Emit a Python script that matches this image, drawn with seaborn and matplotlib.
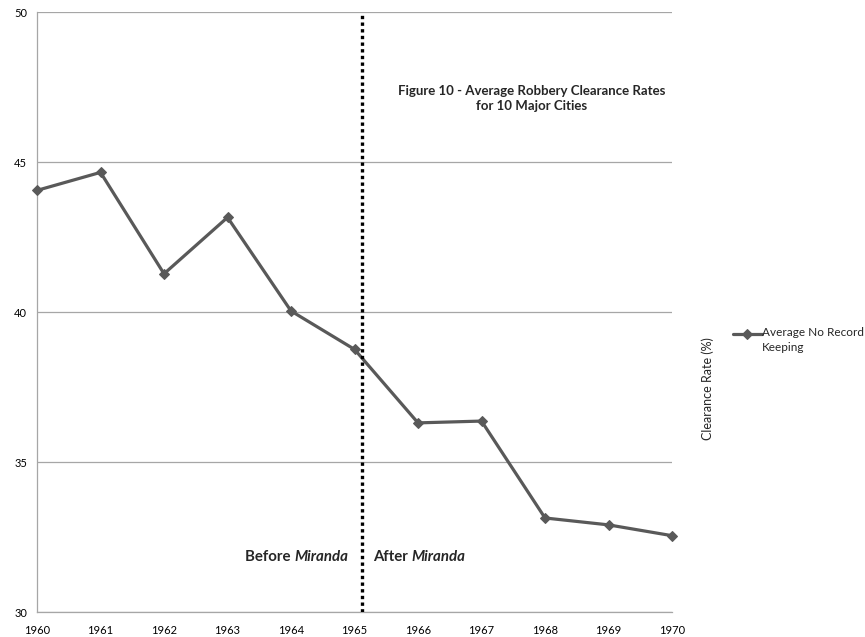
import matplotlib
matplotlib.use("Agg")
import matplotlib.pyplot as plt
import seaborn as sns
import pandas as pd

years = [1960, 1961, 1962, 1963, 1964, 1965, 1966, 1967, 1968, 1969, 1970]
clearance = [44.07, 44.67, 41.29, 43.17, 40.05, 38.77, 36.32, 36.38, 33.15, 32.92, 32.56]
series_name = "Average No Record\nKeeping"
miranda_x = 1965.12

sns.set_style("white")
plt.rcParams["font.family"] = ["Lato", "DejaVu Sans"]

df = pd.DataFrame({"Year": years, "Rate": clearance, "Series": series_name})

fig = plt.figure(figsize=(8.65, 6.37), dpi=100)
ax = fig.add_axes([0.0428, 0.0385, 0.7341, 0.9419])

sns.lineplot(data=df, x="Year", y="Rate", hue="Series", palette=["#595959"],
             marker="D", markersize=5, markeredgecolor="#595959",
             linewidth=2.3, ax=ax, clip_on=False, zorder=4)

ax.set_xlim(1960, 1970)
ax.set_ylim(30, 50)
ax.set_xticks(years)
ax.set_xticklabels([str(y) for y in years])
ax.set_yticks([30, 35, 40, 45, 50])
ax.grid(axis="y", color="#a6a6a6", linewidth=0.9)
ax.set_axisbelow(True)
for s in ["top", "right"]:
    ax.spines[s].set_visible(False)
for s in ["left", "bottom"]:
    ax.spines[s].set_color("#a6a6a6")
    ax.spines[s].set_linewidth(0.9)
ax.tick_params(axis="both", which="both", length=4, width=0.9, color="#a6a6a6",
               labelsize=8, labelcolor="#000000")
ax.tick_params(axis="x", pad=5)
ax.tick_params(axis="y", pad=3)
ax.set_xlabel("")
ax.set_ylabel("")

# Miranda divider
ax.axvline(miranda_x, color="#000000", linewidth=2.4, linestyle=(0, (1, 1)), zorder=5)

bold = dict(fontsize=10.8, fontweight="bold", va="center")
t1 = ax.text(1964.902, 31.85, "Miranda", style="italic", ha="right", **bold)
ax.annotate("Before ", xy=(0, 0.5), xycoords=t1, ha="right", **bold)
t2 = ax.text(1965.296, 31.85, "After ", ha="left", **bold)
ax.annotate("Miranda", xy=(1, 0.5), xycoords=t2, ha="left", style="italic", **bold)

fig.text(0.615, 0.845, "Figure 10 - Average Robbery Clearance Rates\nfor 10 Major Cities",
         ha="center", va="center", fontsize=9.5, fontweight="bold", linespacing=1.35)

fig.text(0.818, 0.39, "Clearance Rate (%)", rotation=90, ha="center", va="center",
         fontsize=9)

leg = ax.legend(loc="upper left", bbox_to_anchor=(0.847, 0.4943),
                bbox_transform=fig.transFigure, frameon=False, fontsize=8.5,
                handlelength=2.5, handleheight=4.8, handletextpad=0.0,
                borderaxespad=0, borderpad=0)
for t in leg.get_texts():
    t.set_linespacing(1.45)

fig.savefig("out.png", dpi=100)
